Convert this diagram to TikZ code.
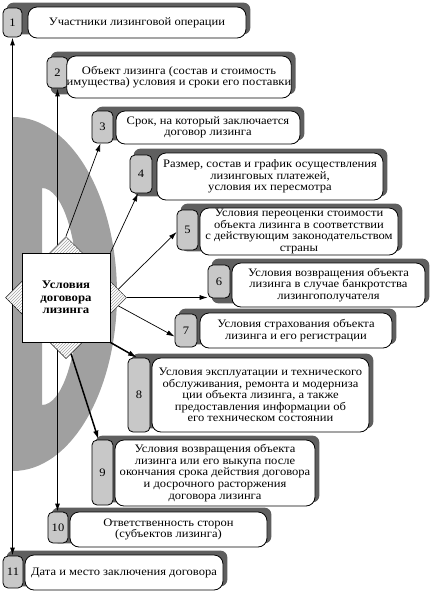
\documentclass[tikz,border=0pt]{standalone}
\usepackage{fontspec}
\setmainfont{Liberation Serif}[FakeStretch=1.1]
\usetikzlibrary{calc,backgrounds,patterns,shapes.geometric,arrows.meta}
\definecolor{shadowc}{RGB}{95,95,95}
\definecolor{tabc}{RGB}{200,200,200}
\definecolor{dgray}{RGB}{160,160,160}
\newcommand\txtfont{\fontsize{11.4}{11.6}\selectfont}
\newcommand\numfont{\fontsize{11.4}{11.6}\selectfont}
\begin{document}
\begin{tikzpicture}[x=1pt,y=-1pt,
  tabbox/.style={draw, line width=0.8pt, fill=tabc, rounded corners=5pt, inner sep=0pt, font=\numfont},
  txtbox/.style={draw, line width=0.8pt, fill=white, rounded corners=9pt, inner sep=0pt, align=center, font=\txtfont},
  arr/.style={-{Latex[length=8pt,width=5pt]}, line width=0.7pt},
  arrb/.style={-{Latex[length=9pt,width=5.5pt]}, line width=1.5pt},
  vline/.style={{Latex[length=8pt,width=5pt]}-{Latex[length=8pt,width=5pt]}, line width=1.2pt},
  dia/.style={diamond, draw, line width=0.5pt, fill=white, inner sep=0pt, minimum width=33pt, minimum height=33pt,
    postaction={pattern=north east lines, pattern color=gray!70}},
  center/.style={draw, line width=1pt, fill=white, inner sep=0pt, minimum width=88pt, minimum height=89pt,
    align=center, font=\bfseries\fontsize{11.6}{12.5}\selectfont}
]
\useasboundingbox (0,0) rectangle (432,592);

% items
\node[tabbox, minimum width=19pt, minimum height=29pt] (t1) at (12.5,22.5) {1};
\node[txtbox, minimum width=218pt, minimum height=31pt] (b1) at (137,22.5) {Участники лизинговой операции};

\node[tabbox, minimum width=21pt, minimum height=31pt] (t2) at (57.5,72.5) {2};
\node[txtbox, minimum width=214pt, minimum height=42pt] (b2) at (179,77) {Объект лизинга (состав и стоимость\\имущества) условия и сроки его поставки};

\node[tabbox, minimum width=21pt, minimum height=32pt] (t3) at (102.5,127) {3};
\node[txtbox, minimum width=184pt, minimum height=33pt] (b3) at (208,127.5) {Срок, на который заключается\\договор лизинга};

\node[tabbox, minimum width=22pt, minimum height=38pt] (t4) at (141,174) {4};
\node[txtbox, minimum width=226pt, minimum height=47pt] (b4) at (270,176.5) {Размер, состав и график осуществления\\лизинговых платежей,\\условия их пересмотра};

\node[tabbox, minimum width=21pt, minimum height=40pt] (t5) at (187.5,230) {5};
\node[txtbox, minimum width=198pt, minimum height=47pt] (b5) at (299,231.5) {Условия переоценки стоимости\\объекта лизинга в соответствии\\с действующим законодательством\\страны};

\node[tabbox, minimum width=22pt, minimum height=33pt] (t6) at (219,281.5) {6};
\node[txtbox, minimum width=193pt, minimum height=44pt] (b6) at (328.5,285) {Условия возвращения объекта\\лизинга в случае банкротства\\лизингополучателя};

\node[tabbox, minimum width=22pt, minimum height=33pt] (t7) at (186,330.5) {7};
\node[txtbox, minimum width=192pt, minimum height=35pt] (b7) at (296,330.5) {Условия страхования объекта\\лизинга и его регистрации};

\node[tabbox, minimum width=22pt, minimum height=74pt] (t8) at (139,395) {8};
\node[txtbox, minimum width=217pt, minimum height=74pt] (b8) at (260.5,395) {Условия эксплуатации и технического\\обслуживания, ремонта и модерниза\\ции объекта лизинга, а также\\предоставления информации об\\его техническом состоянии};

\node[tabbox, minimum width=21pt, minimum height=65pt] (t9) at (102.5,472.5) {9};
\node[txtbox, minimum width=200pt, minimum height=66pt] (b9) at (215,473) {Условия возвращения объекта\\лизинга или его выкупа после\\окончания срока действия договора\\и досрочного расторжения\\договора лизинга};

\node[tabbox, minimum width=20pt, minimum height=31pt] (t10) at (58,527.5) {10};
\node[txtbox, minimum width=197pt, minimum height=35pt] (b10) at (168.5,529.5) {Ответственность сторон\\(субъектов лизинга)};

\node[tabbox, minimum width=20pt, minimum height=32pt] (t11) at (13,572) {11};
\node[txtbox, minimum width=198pt, minimum height=35pt] (b11) at (124,572.5) {Дата и место заключения договора};

% background decoration and shadows
\begin{scope}[on background layer]
  \fill[dgray, even odd rule]
    (13,117) arc[start angle=-90, end angle=90, x radius=104, y radius=177] -- cycle
    (42,188) arc[start angle=-90, end angle=90, x radius=36, y radius=108.5] -- cycle;
  \foreach \i in {1,...,11}
    \fill[shadowc, rounded corners=7pt] ($(t\i.west |- b\i.north)+(4,-4)$) rectangle ($(b\i.south east)+(4,-4)$);
\end{scope}

% vertical connectors
\draw[vline] (t1.south) -- (t1.south |- t11.north);
\draw[vline] (t2.south) -- (t2.south |- t10.north);

% centre
\node[dia] (dtop) at (66,253) {};
\node[dia] (dleft) at (22,297.5) {};
\node[dia] (dright) at (110,297.5) {};
\node[dia] (dbot) at (66,342) {};
\node[center] (cs) at (66,297.5) {Условия\\договора\\лизинга};

% arrows
\draw[arr] (dtop.north) -- ($(t3.south)+(-2,0)$);
\draw[arr] (cs.north east) -- ($(t4.south)+(-3,0)$);
\draw[arr] ($(dright.north)!0.5!(dright.east)$) -- ($(t5.west)+(0,2)$);
\draw[arr] (dright.east) -- (dright.east -| t6.west);
\draw[arr] ($(dright.east)!0.5!(dright.south)$) -- ($(t7.west)+(0,6)$);
\draw[arrb] (cs.south east) -- ($(t8.north)+(-2,0)$);
\draw[arrb] ($(dbot.east)!0.7!(dbot.south)$) -- ($(t9.north)+(-4,0)$);
\end{tikzpicture}
\end{document}
